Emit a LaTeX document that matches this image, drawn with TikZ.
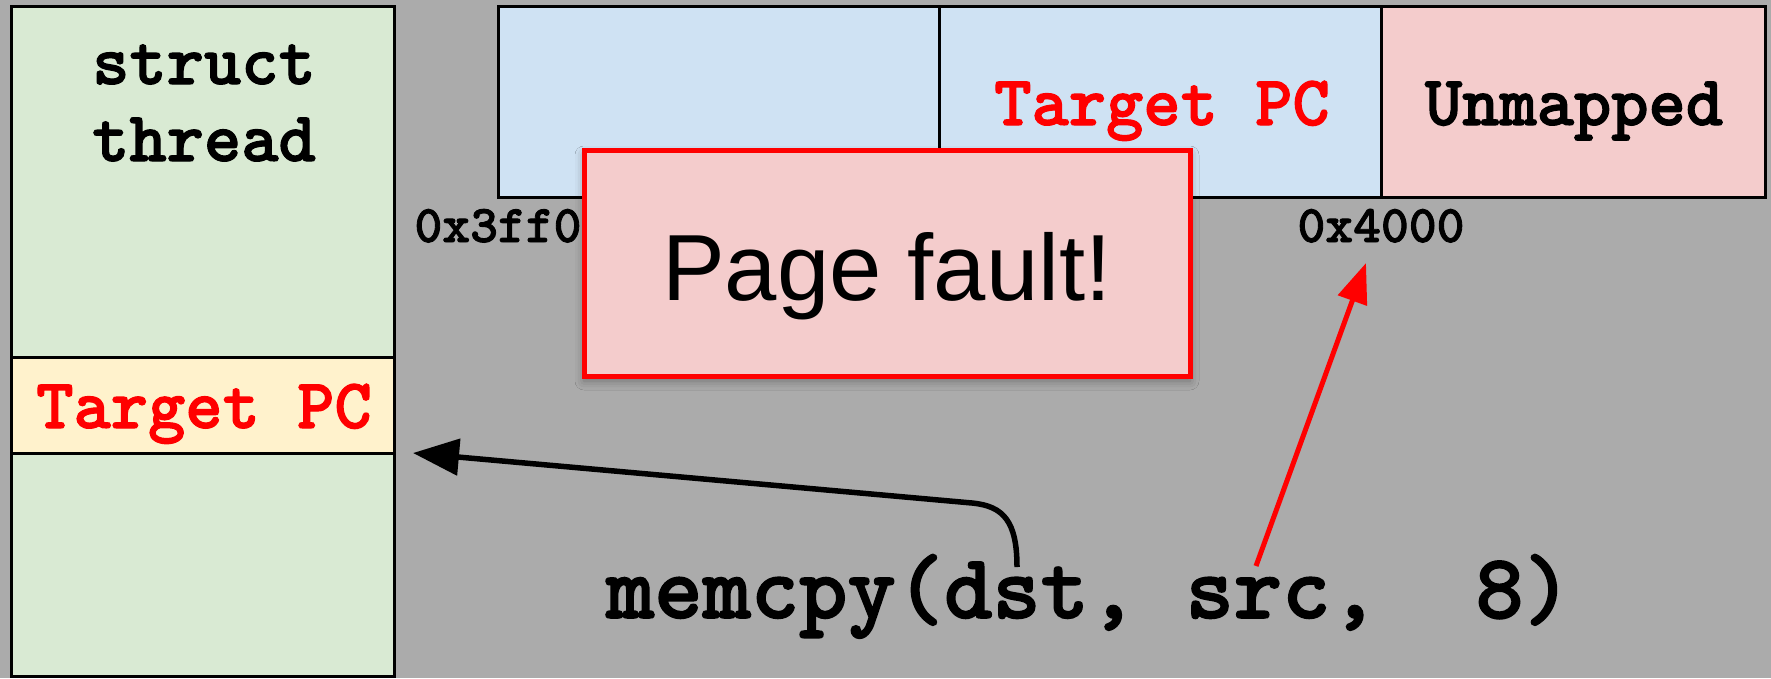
\documentclass[tikz,border=0pt]{standalone}
\usepackage{fontspec}
\usetikzlibrary{arrows.meta,shadows.blur}
\newfontfamily\pfsans{Liberation Sans}
\newfontfamily\codefam{lmmonolt10-bold}[Extension=.otf, BoldFont=lmmonolt10-bold, BoldFeatures={FakeBold=1.6}]
\newcommand\codefont{\codefam\bfseries}
\definecolor{bg}{HTML}{ABABAB}
\definecolor{gfill}{HTML}{D9EAD3}
\definecolor{yfill}{HTML}{FFF2CC}
\definecolor{bfill}{HTML}{CFE2F3}
\definecolor{rfill}{HTML}{F4CCCC}
\definecolor{pred}{HTML}{FF0000}
\tikzset{
  boxcell/.style={draw=black, line width=3pt, inner sep=0pt, outer sep=0pt, anchor=north west},
  codemid/.style={font={\codefont\fontsize{71}{78}\selectfont}, inner sep=0pt, anchor=base},
  codesmall/.style={font={\codefont\fontsize{53}{58}\selectfont}, inner sep=0pt, anchor=base},
  codebig/.style={font={\codefont\fontsize{92}{100}\selectfont}, inner sep=0pt, anchor=base},
  pfbox/.style={draw=pred, fill=rfill, line width=5pt, inner sep=0pt,
    minimum width=606pt, minimum height=226pt,
    blur shadow={shadow xshift=0pt, shadow yshift=-5pt, shadow blur radius=9pt, shadow opacity=35}},
  blkarrow/.style={draw=black, line width=5.5pt, -{Triangle[length=46pt,width=36pt]}},
  redarrow/.style={draw=pred, line width=5pt, -{Triangle[length=40pt,width=30pt]}},
}
\begin{document}
\begin{tikzpicture}[x=1pt,y=-1pt]
\useasboundingbox (0,0) rectangle (1771,678);
\fill[bg] (0,0) rectangle (1771,678);

% left struct thread
\node[boxcell, fill=gfill, minimum width=383pt, minimum height=670pt] (thr) at (11,6) {};
\node[boxcell, fill=yfill, minimum width=383pt, minimum height=96pt] (tpcrow) at (11,357) {};
\node[codemid] (st1) at (204,84) {struct};
\node[codemid] (st2) at (204,161) {thread};
\node[codemid, text=pred] (tpcl) at (204,428) {Target PC};

% memory bar
\node[boxcell, fill=bfill, minimum width=441pt, minimum height=191pt] (c1) at (498,6) {};
\node[boxcell, fill=bfill, minimum width=442pt, minimum height=191pt] (c2) at (939,6) {};
\node[boxcell, fill=rfill, minimum width=384pt, minimum height=191pt] (c3) at (1381,6) {};
\node[codemid, text=pred] (tpct) at (1162,125) {Target PC};
\node[codemid] (unm) at (1574,125) {Unmapped};
\node[codesmall] (a1) at (498,242) {0x3ff0};
\node[codesmall] (a2) at (1381,242) {0x4000};

% memcpy
\node[codebig] (mc) at (1089,618) {memcpy(dst,~src,~~8)};

% connectors
\coordinate (dstp) at (1017,567);
\coordinate (bend) at (972,503);
\coordinate (dsttip) at (413,453);
\coordinate (srcp) at (1256,566);
\coordinate (srctip) at (1366,263);
\draw[blkarrow] (dstp) .. controls (1017,522) and (1004,506) .. (bend) -- (dsttip);
\draw[redarrow] (srcp) -- (srctip);

% page fault
\node[pfbox] (pf) at (887,263) {};
\node[font={\pfsans\fontsize{94}{100}\selectfont}, inner sep=0pt, anchor=base] (pft) at (887,300) {Page fault!};
\end{tikzpicture}
\end{document}
